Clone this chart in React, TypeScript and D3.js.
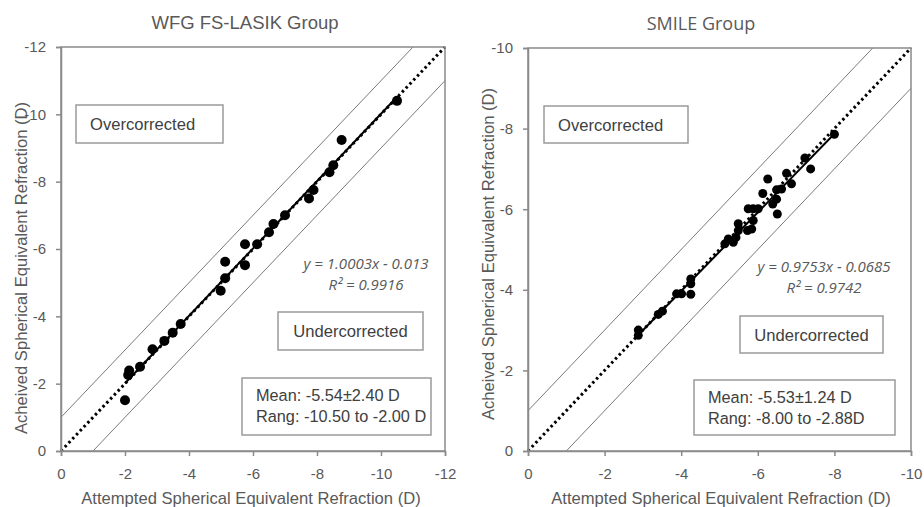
import React, { useEffect, useRef } from 'react';
import * as d3 from 'd3';

// attempted vs achieved spherical equivalent refraction (D)
const lasikAttempted = [-2.0, -2.1, -2.13, -2.47, -2.86, -3.23, -3.49, -3.74, -4.99, -5.13, -5.13, -5.75, -5.75, -6.13, -6.5, -6.64, -7.0, -7.75, -7.89, -8.39, -8.51, -8.77, -10.5];
const lasikAchieved = [-1.51, -2.26, -2.39, -2.5, -3.02, -3.27, -3.51, -3.77, -4.76, -5.13, -5.62, -5.52, -6.14, -6.14, -6.5, -6.74, -7.0, -7.5, -7.75, -8.28, -8.49, -9.24, -10.4];

const smileAttempted = [-2.88, -2.88, -3.4, -3.51, -3.88, -4.01, -4.25, -4.25, -4.25, -5.14, -5.23, -5.36, -5.43, -5.49, -5.49, -5.73, -5.84, -5.88, -5.75, -5.88, -6.01, -6.39, -6.49, -6.51, -6.13, -6.49, -6.62, -6.26, -6.88, -6.75, -7.38, -7.23, -8.0];
const smileAchieved = [-2.87, -3.0, -3.39, -3.47, -3.9, -3.9, -3.89, -4.15, -4.27, -5.14, -5.26, -5.18, -5.3, -5.47, -5.64, -5.47, -5.51, -5.72, -6.01, -6.01, -6.01, -6.13, -6.25, -5.88, -6.39, -6.48, -6.5, -6.75, -6.63, -6.89, -7.0, -7.27, -7.86];

const lasikTicks = [0, -2, -4, -6, -8, -10, -12];
const smileTicks = [0, -2, -4, -6, -8, -10];

const lasikFit = { slope: 1.0003, intercept: -0.013, r2: '0.9916' };
const smileFit = { slope: 0.9753, intercept: -0.0685, r2: '0.9742' };

const AXIS_GRAY = '#8a8a8a';
const TEXT_GRAY = '#595959';
const SANS = '"Liberation Sans", Arial, sans-serif';

interface PanelOpts {
  title: string;
  titleFont: string;
  titleSize: number;
  attempted: number[];
  achieved: number[];
  ticks: number[];
  fit: { slope: number; intercept: number; r2: string };
  eqText: string;
  meanLines: string[];
  x0: number; x1: number; y0: number; y1: number;
  r: number;
  titlePos: [number, number];
  yTitlePos: [number, number];
  xTitleX: number;
  overBox: [number, number, number, number];
  underBox: [number, number, number, number];
  meanBox: [number, number, number, number];
  eqPos: [number, number];
}

function drawPanel(g: d3.Selection<SVGGElement, unknown, null, undefined>, o: PanelOpts) {
  const max = o.ticks[o.ticks.length - 1];
  const x = d3.scaleLinear().domain([0, max]).range([o.x0, o.x1]);
  const y = d3.scaleLinear().domain([0, max]).range([o.y0, o.y1]);

  // title
  g.append('text')
    .attr('x', o.titlePos[0]).attr('y', o.titlePos[1])
    .attr('text-anchor', 'middle')
    .style('font-family', o.titleFont)
    .style('font-size', `${o.titleSize}px`)
    .attr('fill', TEXT_GRAY)
    .text(o.title);

  // +-1 D lines
  const band = g.append('g').attr('stroke', '#7a7a7a').attr('stroke-width', 1);
  band.append('line')
    .attr('x1', x(0)).attr('y1', y(-1))
    .attr('x2', x(max + 1)).attr('y2', y(max));
  band.append('line')
    .attr('x1', x(-1)).attr('y1', y(0))
    .attr('x2', x(max)).attr('y2', y(max + 1));

  // y = x reference
  g.append('line')
    .attr('x1', x(0)).attr('y1', y(0))
    .attr('x2', x(max)).attr('y2', y(max))
    .attr('stroke', '#000')
    .attr('stroke-width', 3)
    .attr('stroke-dasharray', '2.5,3');

  // regression line
  const xs = d3.extent(o.attempted) as [number, number];
  g.append('line')
    .attr('x1', x(xs[0])).attr('y1', y(o.fit.slope * xs[0] + o.fit.intercept))
    .attr('x2', x(xs[1])).attr('y2', y(o.fit.slope * xs[1] + o.fit.intercept))
    .attr('stroke', '#000')
    .attr('stroke-width', 2);

  // points
  g.append('g')
    .selectAll('circle')
    .data(o.attempted)
    .join('circle')
    .attr('cx', d => x(d))
    .attr('cy', (_, i) => y(o.achieved[i]))
    .attr('r', o.r)
    .attr('fill', '#000');

  // frame
  g.append('rect')
    .attr('x', o.x0).attr('y', o.y1)
    .attr('width', o.x1 - o.x0).attr('height', o.y0 - o.y1)
    .attr('fill', 'none')
    .attr('stroke', AXIS_GRAY)
    .attr('stroke-width', 1.5);

  const fmt = (d: d3.NumberValue) => `${d}`;
  const xAxis = g.append('g')
    .attr('transform', `translate(0,${o.y0})`)
    .call(d3.axisBottom(x).tickValues(o.ticks).tickFormat(fmt).tickSize(5).tickPadding(12));
  const yAxis = g.append('g')
    .attr('transform', `translate(${o.x0},0)`)
    .call(d3.axisLeft(y).tickValues(o.ticks).tickFormat(fmt).tickSize(5).tickPadding(10));
  [xAxis, yAxis].forEach(a => {
    a.select('.domain').attr('stroke', AXIS_GRAY).attr('stroke-width', 1.5);
    a.selectAll('line').attr('stroke', AXIS_GRAY).attr('stroke-width', 1.5);
    a.selectAll('text')
      .attr('fill', TEXT_GRAY)
      .style('font-family', SANS)
      .style('font-size', '15px');
  });

  // axis titles
  g.append('text')
    .attr('x', o.xTitleX).attr('y', 504)
    .attr('text-anchor', 'middle')
    .style('font-family', SANS)
    .style('font-size', '16.6px')
    .attr('fill', TEXT_GRAY)
    .text('Attempted Spherical Equivalent Refraction (D)');
  g.append('text')
    .attr('transform', `translate(${o.yTitlePos[0]},${o.yTitlePos[1]}) rotate(-90)`)
    .attr('text-anchor', 'middle')
    .style('font-family', SANS)
    .style('font-size', '16.6px')
    .attr('fill', TEXT_GRAY)
    .text('Acheived Spherical Equivalent Refraction (D)');

  // annotation boxes
  const box = (b: [number, number, number, number]) =>
    g.append('rect')
      .attr('x', b[0]).attr('y', b[1])
      .attr('width', b[2] - b[0]).attr('height', b[3] - b[1])
      .attr('fill', '#fff')
      .attr('stroke', '#9a9a9a')
      .attr('stroke-width', 1.5);

  box(o.overBox);
  g.append('text')
    .attr('x', o.overBox[0] + 14).attr('y', (o.overBox[1] + o.overBox[3]) / 2 + 6)
    .style('font-family', SANS).style('font-size', '16.6px')
    .attr('fill', '#404040')
    .text('Overcorrected');

  box(o.underBox);
  g.append('text')
    .attr('x', (o.underBox[0] + o.underBox[2]) / 2).attr('y', (o.underBox[1] + o.underBox[3]) / 2 + 6)
    .attr('text-anchor', 'middle')
    .style('font-family', SANS).style('font-size', '16.6px')
    .attr('fill', '#404040')
    .text('Undercorrected');

  box(o.meanBox);
  o.meanLines.forEach((t, i) => {
    g.append('text')
      .attr('x', o.meanBox[0] + 14).attr('y', o.meanBox[1] + 23 + i * 20.5)
      .style('font-family', SANS).style('font-size', '16.3px')
      .attr('fill', '#404040')
      .text(t);
  });

  // regression equation
  const eq = g.append('text')
    .attr('text-anchor', 'middle')
    .style('font-family', '"Open Sans", sans-serif')
    .style('font-style', 'italic')
    .style('font-size', '15px')
    .attr('fill', TEXT_GRAY);
  eq.append('tspan').attr('x', o.eqPos[0]).attr('y', o.eqPos[1]).text(o.eqText);
  eq.append('tspan').attr('x', o.eqPos[0]).attr('dy', 21).text(`R² = ${o.fit.r2}`);
}

export default function App() {
  const svgRef = useRef<SVGSVGElement>(null);

  useEffect(() => {
    if (!svgRef.current) return;
    const svg = d3.select(svgRef.current);
    svg.selectAll('*').remove();

    drawPanel(svg.append('g'), {
      title: 'WFG FS-LASIK Group',
      titleFont: SANS,
      titleSize: 18.5,
      attempted: lasikAttempted,
      achieved: lasikAchieved,
      ticks: lasikTicks,
      fit: lasikFit,
      eqText: 'y = 1.0003x - 0.013',
      meanLines: ['Mean: -5.54±2.40 D', 'Rang: -10.50 to -2.00 D'],
      x0: 61, x1: 445, y0: 451, y1: 47,
      r: 5,
      titlePos: [245, 29],
      yTitlePos: [27, 268],
      xTitleX: 251,
      overBox: [76, 105, 223, 143],
      underBox: [278, 312, 423, 350],
      meanBox: [242, 378, 431, 435],
      eqPos: [366, 269]
    });

    drawPanel(svg.append('g'), {
      title: 'SMILE Group',
      titleFont: '"Open Sans", sans-serif',
      titleSize: 18,
      attempted: smileAttempted,
      achieved: smileAchieved,
      ticks: smileTicks,
      fit: smileFit,
      eqText: 'y = 0.9753x - 0.0685',
      meanLines: ['Mean: -5.53±1.24 D', 'Rang: -8.00 to -2.88D'],
      x0: 528, x1: 911, y0: 451, y1: 48,
      r: 4.5,
      titlePos: [701, 30],
      yTitlePos: [494, 254],
      xTitleX: 721,
      overBox: [544, 106, 688, 143],
      underBox: [740, 316, 883, 353],
      meanBox: [694, 380, 895, 435],
      eqPos: [824, 272]
    });
  }, []);

  return (
    <svg
      ref={svgRef}
      width={924}
      height={507}
      style={{ position: 'absolute', left: 0, top: 0, background: '#fff' }}
    />
  );
}
